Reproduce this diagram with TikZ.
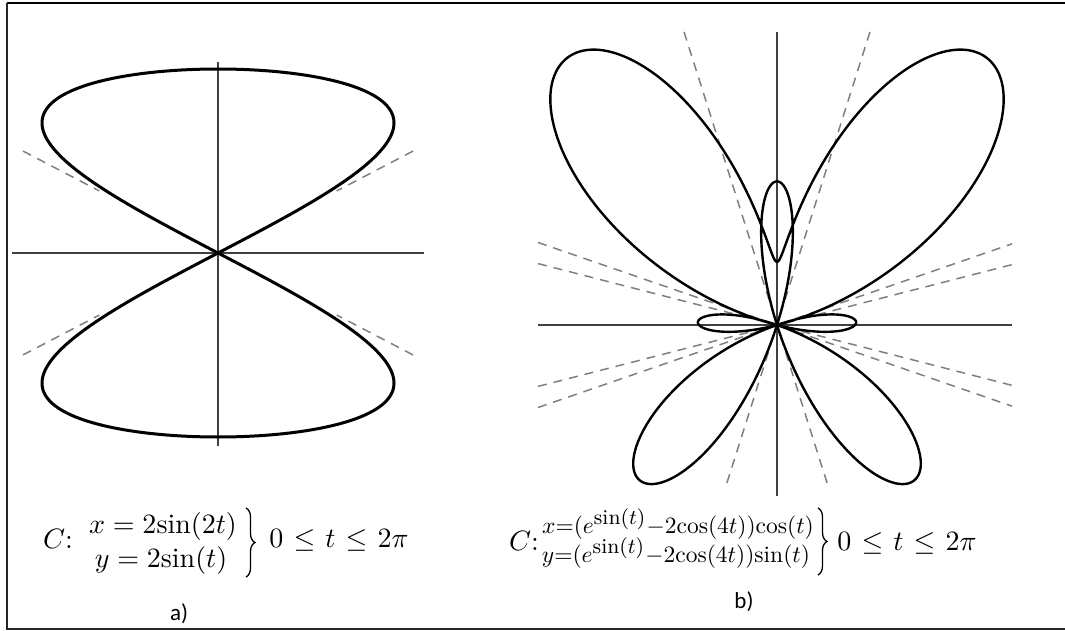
\documentclass[tikz,border=0pt]{standalone}
\usepackage{fontspec}
\newfontfamily\labfont{Carlito}
\usetikzlibrary{decorations.pathreplacing}
\tikzset{
  curvea/.style={line width=3pt, black, line join=round},
  curveb/.style={line width=2.4pt, black, line join=round},
  axisline/.style={line width=1.6pt, black!75},
  dashline/.style={line width=1.5pt, black!50, dash pattern=on 9pt off 7pt},
  frametop/.style={line width=2.5pt, black},
  frameside/.style={line width=1.8pt, black!85},
  eqa/.style={inner sep=0pt, anchor=base, font=\normalsize, scale=2.8},
  eqb/.style={inner sep=0pt, anchor=base, font=\normalsize, scale=2.35},
  lab/.style={inner sep=0pt, anchor=base, font=\normalsize\labfont, scale=2.3},
  bracestyle/.style={decorate, decoration={brace, amplitude=9pt}, line width=1.3pt},
}
\newcommand{\supsin}{\mbox{\small$\mathrm{sin}(t)$}}
\newcommand{\trange}{$0 \mkern1.5mu\le\mkern1.5mu t \mkern1.5mu\le\mkern1.5mu 2\pi$}
\begin{document}
\begin{tikzpicture}[x=1pt, y=-1pt]
\useasboundingbox (0,0) rectangle (1065,631);
\fill[white] (0,0) rectangle (1065,631);
% frame
\draw[frametop] (7,3) -- (1065,3);
\draw[frameside] (7,3) -- (7,629) -- (1065,629);

% ---------- panel a ----------
\begin{scope}[shift={(218,253)}, x=88pt, y=92pt]
  \draw[axisline] (-2.34,0) -- (2.34,0);
  \draw[axisline] (0,2.08) -- (0,-2.10);
  \coordinate (a1o) at (-2.216,1.108);  \coordinate (a1i) at (-1.35,0.675);
  \coordinate (a2o) at (2.216,1.108);   \coordinate (a2i) at (1.35,0.675);
  \coordinate (a3o) at (-2.216,-1.108); \coordinate (a3i) at (-1.35,-0.675);
  \coordinate (a4o) at (2.216,-1.108);  \coordinate (a4i) at (1.35,-0.675);
  \draw[dashline] (a1o) -- (a1i);
  \draw[dashline] (a2o) -- (a2i);
  \draw[dashline] (a3o) -- (a3i);
  \draw[dashline] (a4o) -- (a4i);
  \draw[curvea] plot[domain=0:360, samples=361, smooth, variable=\t]
     ({2*sin(2*\t)},{2*sin(\t)}) -- cycle;
\end{scope}

% ---------- panel b ----------
\begin{scope}[shift={(777,325)}, x=78pt, y=88pt]
  \draw[axisline] (-3.064,0) -- (3.013,0);
  \draw[axisline] (0,3.33) -- (0,-1.94);
  \foreach \ang/\nm in {12.83/s1, 17.02/s2, -12.83/s3, -17.02/s4}{
    \coordinate (\nm l) at (-3.064,{-3.064*tan(\ang)});
    \coordinate (\nm r) at (3.013,{3.013*tan(\ang)});
    \draw[dashline] (\nm l) -- (\nm r);
  }
  \coordinate (v1t) at ({3.33/tan(70.31)},3.33);
  \coordinate (v1b) at ({-1.82/tan(70.31)},-1.82);
  \coordinate (v2t) at ({-3.33/tan(70.31)},3.33);
  \coordinate (v2b) at ({1.82/tan(70.31)},-1.82);
  \draw[dashline] (v1t) -- (v1b);
  \draw[dashline] (v2t) -- (v2b);
  \draw[curveb] plot[domain=0:360, samples=721, smooth, variable=\t]
     ({(exp(sin(\t))-2*cos(4*\t))*cos(\t)},{(exp(sin(\t))-2*cos(4*\t))*sin(\t)}) -- cycle;
\end{scope}

% ---------- formula a ----------
\node[eqa] (Ca) at (58,548) {$C{:}$};
\node[eqa] (xa) at (163,533) {$x = 2\mathrm{sin}(2t)$};
\node[eqa] (ya) at (161,567) {$y = 2\mathrm{sin}(t)$};
\coordinate (bra1) at (246,508);
\coordinate (bra2) at (246,577);
\draw[bracestyle] (bra1) -- (bra2);
\node[eqa] (ra) at (339,547) {\trange};
\node[lab] (la) at (179,620) {a)};

% ---------- formula b ----------
\node[eqa] (Cb) at (524,550) {$C{:}$};
\node[eqb] (xb) at (678,533) {$x{=}(e^{\supsin}{-}2\mathrm{cos}(4t))\mathrm{cos}(t)$};
\node[eqb] (yb) at (676,562) {$y{=}(e^{\supsin}{-}2\mathrm{cos}(4t))\mathrm{sin}(t)$};
\coordinate (brb1) at (818,508);
\coordinate (brb2) at (818,575);
\draw[bracestyle] (brb1) -- (brb2);
\node[eqa] (rb) at (907,550) {\trange};
\node[lab] (lb) at (744,608) {b)};
\end{tikzpicture}
\end{document}
